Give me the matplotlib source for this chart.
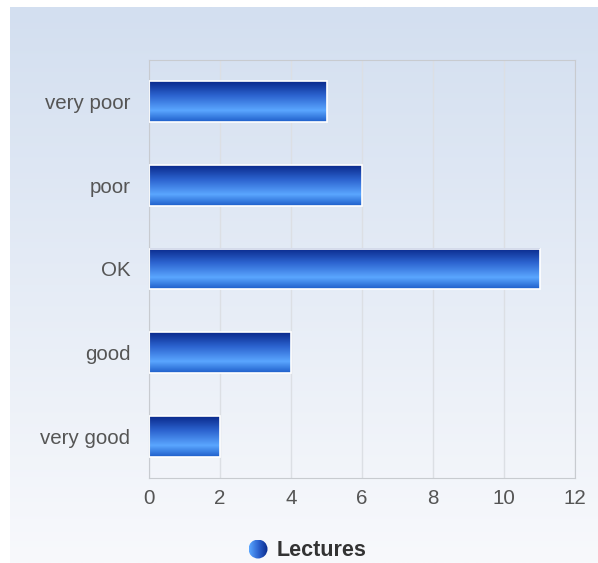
import numpy as np
import matplotlib.pyplot as plt
from matplotlib.colors import LinearSegmentedColormap
from matplotlib.patches import Rectangle, Circle

categories = ["very poor", "poor", "OK", "good", "very good"]
lectures = [5, 6, 11, 4, 2]
x_ticks = [0, 2, 4, 6, 8, 10, 12]

plt.rcParams['font.family'] = ['Liberation Sans', 'DejaVu Sans']

fig = plt.figure(figsize=(5.98, 5.63), dpi=100)

# panel background gradient
bg = fig.add_axes([10 / 598, 0, 588 / 598, 1 - 7 / 563], zorder=-10)
bg_cmap = LinearSegmentedColormap.from_list("bg", ["#f8f9fc", "#d3dff0"])
bg.imshow(np.linspace(0, 1, 256).reshape(-1, 1), aspect="auto", cmap=bg_cmap,
          origin="lower", extent=[0, 1, 0, 1])
bg.axis("off")

ax = fig.add_axes([149 / 598, 1 - 478 / 563, 426 / 598, 418 / 563])
ax.set_facecolor("none")

bar_cmap = LinearSegmentedColormap.from_list(
    "bar", [(0.0, "#0a2a8c"), (0.35, "#2c63cf"), (0.72, "#5aa6ff"), (1.0, "#1f5fca")])
grad = np.linspace(0, 1, 64).reshape(-1, 1)

ypos = np.arange(len(categories))
h = 0.49
for y, v in zip(ypos, lectures):
    ax.imshow(grad, aspect="auto", cmap=bar_cmap, origin="upper",
              extent=[0, v, y + h / 2, y - h / 2], zorder=2)
    ax.add_patch(Rectangle((0, y - h / 2), v, h, fill=False, edgecolor="white",
                           linewidth=1.2, zorder=3))

ax.set_xlim(0, 12)
ax.set_ylim(len(categories) - 0.5, -0.5)
ax.set_xticks(x_ticks)
ax.set_yticks(ypos)
ax.set_yticklabels(categories)
ax.tick_params(axis="both", length=0, labelsize=14.8, colors="#555555")
ax.tick_params(axis="x", pad=8)
ax.tick_params(axis="y", pad=13.5)
ax.grid(axis="x", color="#dcdfe4", linewidth=1, zorder=0)
ax.set_axisbelow(True)
for s in ax.spines.values():
    s.set_color("#c8cbd0")

# legend: marker with horizontal gradient + label
leg = fig.add_axes([248.5 / 598, 1 - 558.5 / 563, 19 / 598, 19 / 563])
leg_cmap = LinearSegmentedColormap.from_list("leg", ["#5aa6ff", "#2c63cf", "#0a2a8c"])
im = leg.imshow(np.linspace(0, 1, 64).reshape(1, -1), aspect="auto", cmap=leg_cmap,
                extent=[0, 1, 0, 1])
im.set_clip_path(Circle((0.5, 0.5), 0.5, transform=leg.transData))
leg.set_xlim(0, 1)
leg.set_ylim(0, 1)
leg.axis("off")
fig.text(277 / 598, 1 - 550 / 563, "Lectures", fontsize=15.5, fontweight="bold",
         color="#333333", va="center", ha="left")

fig.savefig("out.png", dpi=100)
